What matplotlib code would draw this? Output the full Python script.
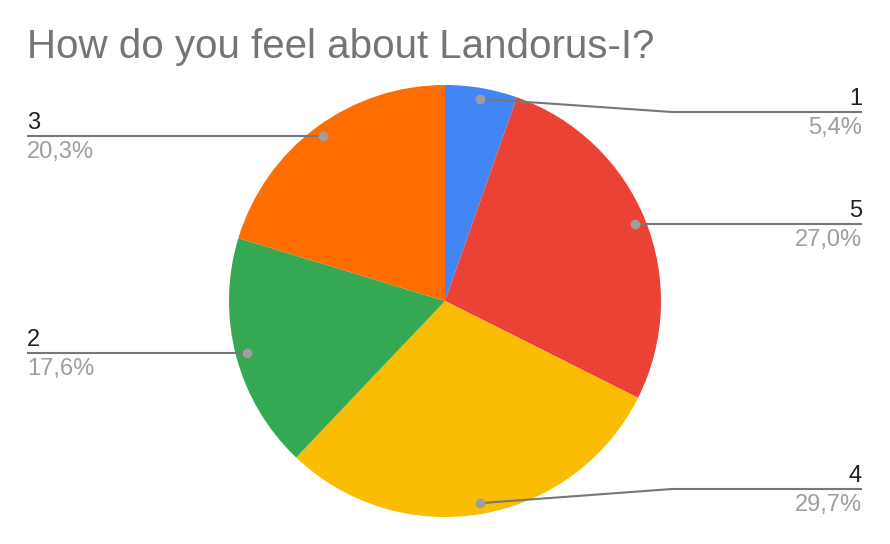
import numpy as np
import matplotlib
matplotlib.use("Agg")
import matplotlib.pyplot as plt

# Data
labels = ["1", "5", "4", "2", "3"]
shares = [5.4, 27.0, 29.7, 17.6, 20.3]
pct_text = ["5,4%", "27,0%", "29,7%", "17,6%", "20,3%"]
colors = ["#4285F4", "#EA4335", "#FBBC04", "#34A853", "#FF6D01"]
title = "How do you feel about Landorus-I?"

plt.rcParams["font.family"] = ["Liberation Sans", "DejaVu Sans"]

fig = plt.figure(figsize=(8.9, 5.44), dpi=100)
ax = fig.add_axes([0, 0, 1, 1])

cx, cy, r = 445, 301, 216
# y axis is flipped (pixel coords), so startangle=-90 points up and
# counterclock=True runs clockwise on screen
ax.pie(shares, colors=colors, startangle=-90, counterclock=True,
       center=(cx, cy), radius=r, frame=True,
       wedgeprops=dict(linewidth=0))
ax.set_xlim(0, 890)
ax.set_ylim(544, 0)
ax.axis("off")

fig.text(27 / 890, 1 - 47 / 544, title, fontsize=29, color="#757575",
         ha="left", va="center")

line_col = "#777777"
dot_col = "#9e9e9e"
cum = np.cumsum([0] + shares)
total = sum(shares)
for i, lab in enumerate(labels):
    mid = (cum[i] + cum[i + 1]) / 2 / total * 2 * np.pi  # clockwise from top
    dx = np.sin(mid) * r * 0.95
    dy = -np.cos(mid) * r * 0.95
    px, py = cx + dx, cy + dy
    ly = min(max(py, 112), 489)
    if dx >= 0:
        if abs(ly - py) > 1:
            xs, ys = [px, 672, 862], [py, ly, ly]
        else:
            xs, ys = [px, 862], [ly, ly]
        tx, ha = 862, "right"
    else:
        xs, ys = [px, 27], [ly, ly]
        tx, ha = 27, "left"
    ax.plot(xs, ys, color=line_col, lw=1.5, solid_capstyle="butt", zorder=3)
    ax.plot([px], [py], "o", color=dot_col, ms=6, zorder=4)
    ax.text(tx, ly - 7, lab, fontsize=17, color="#212121", ha=ha, va="baseline")
    ax.text(tx, ly + 5, pct_text[i], fontsize=17, color="#9e9e9e", ha=ha, va="top")

fig.savefig("out.png", dpi=100, facecolor="white")
